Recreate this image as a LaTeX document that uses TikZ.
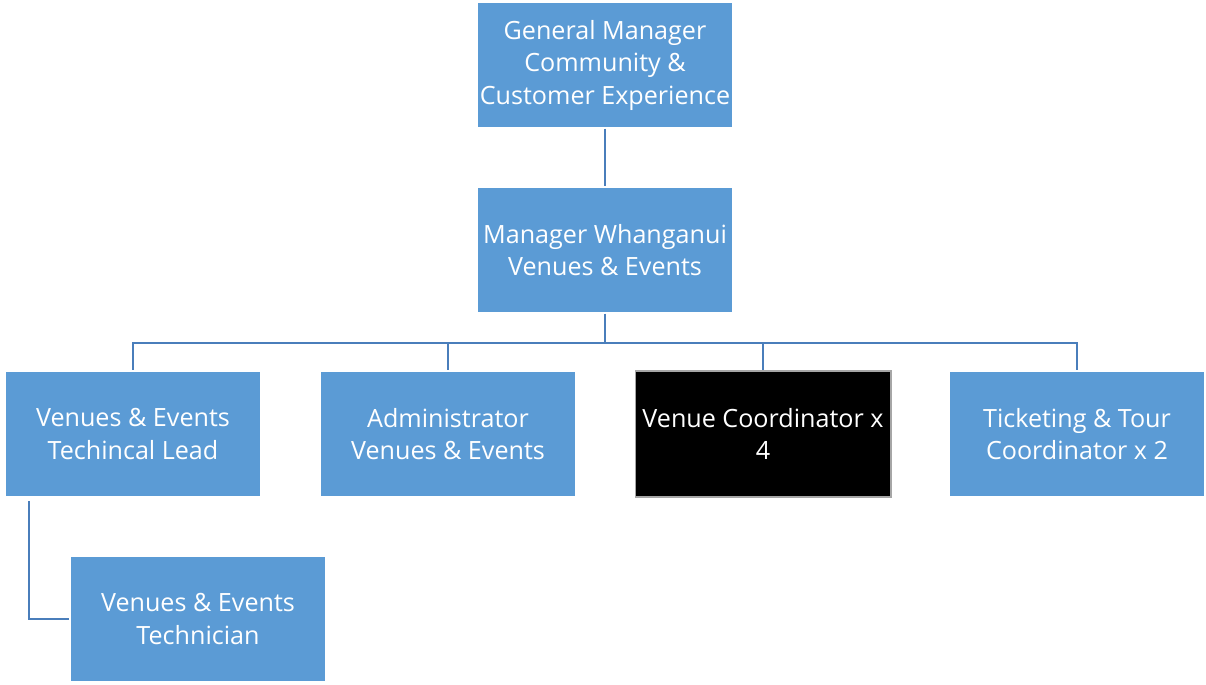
\documentclass[tikz,border=0pt]{standalone}
\usepackage{fontspec}
\setmainfont{Open Sans}
\usepackage{xcolor}
\usetikzlibrary{positioning, calc}

\definecolor{boxblue}{RGB}{91,155,213}
\definecolor{linkblue}{RGB}{74,126,187}

\tikzset{
    post/.style={draw=white, line width=0.6pt, fill=boxblue, text=white,
        minimum width=5.12cm, minimum height=2.52cm, inner sep=0pt,
        align=center, font=\fontsize{14.3}{18.5}\selectfont},
    link/.style={draw=linkblue, line width=1.5pt}
}

\begin{document}
\begin{tikzpicture}[x=0.02cm, y=-0.02cm]
    \useasboundingbox (0,0) rectangle (1206,685);

    % Vertici
    \node[post] (gm) at (605,65) {General Manager\\Community \&\\Customer Experience};
    \node[post] (mgr) at (605,250) {Manager Whanganui\\Venues \& Events};

    % Terza fila
    \node[post] (lead) at (133,434) {Venues \& Events\\Techincal Lead};
    \node[post] (admin) at (448,434) {Administrator\\Venues \& Events};
    \node[post, fill=black, draw=gray!70] (coord) at (763,434) {Venue Coordinator x\\4};
    \node[post] (ticket) at (1077,434) {Ticketing \& Tour\\Coordinator x 2};

    % Tecnico
    \node[post] (tech) at (198,619) {Venues \& Events\\Technician};

    % Collegamenti
    \coordinate (bus) at (605,343);
    \coordinate (techtop) at (29,501);
    \draw[link] (gm) -- (mgr);
    \draw[link] (mgr.south) -- (bus);
    \foreach \n in {lead, admin, coord, ticket}
        \draw[link] (bus) -| (\n.north);
    \draw[link] (techtop) |- (tech.west);
\end{tikzpicture}
\end{document}
